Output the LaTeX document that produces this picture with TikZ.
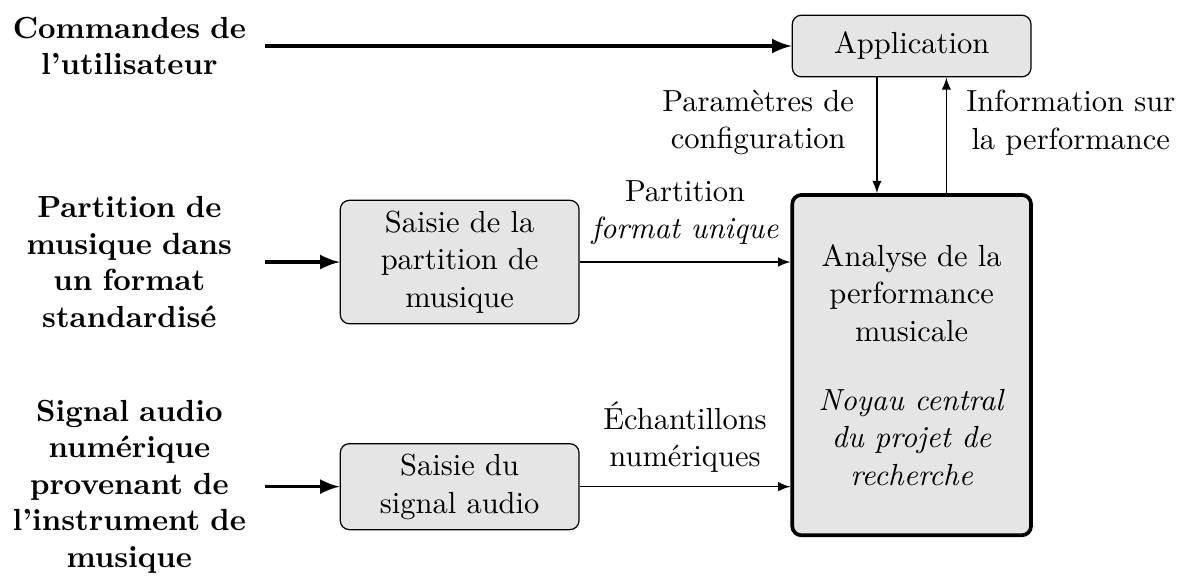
\documentclass[tikz,border=0pt]{standalone}
\usetikzlibrary{positioning}

\begin{document}
\begin{tikzpicture}[
    txt/.style={align=center, execute at begin node={\setlength{\baselineskip}{12.4pt}}},
    box/.style={txt, draw, rounded corners=3pt, fill=gray!20, minimum width=2.75cm},
    inlabel/.style={font=\bfseries, text width=2.9cm, align=center, inner xsep=3pt},
    flow/.style={-latex},
    input/.style={-latex, very thick}]
    \useasboundingbox (0,0) rectangle (13.66,-6.636);
    % blocs
    \node[box, minimum height=0.71cm] (app) at (10.5,-0.53) {Application};
    \node[box, very thick, minimum height=3.92cm] (analyse) at (10.5,-4.205)
        {Analyse de la\\performance\\musicale\\[10pt]\textit{Noyau central}\\\textit{du projet de}\\\textit{recherche}};
    \node[box] (partbox) at (5.294,-3.018) {Saisie de la\\partition de\\musique};
    \node[box] (sigbox) at (5.294,-5.605) {Saisie du\\signal audio};
    % entrees
    \node[inlabel, left=0.86cm of partbox] (partin) {Partition de\\musique dans\\un format\\standardisé};
    \node[inlabel, left=0.86cm of sigbox] (sigin) {Signal audio\\numérique\\provenant de\\l'instrument de\\musique};
    \node[inlabel] (cmdin) at (partin |- app) {Commandes de\\l'utilisateur};
    \draw[input] (cmdin) -- (app);
    \draw[input] (partin) -- (partbox);
    \draw[input] (sigin) -- (sigbox);
    % liaisons
    \draw[flow] (partbox) -- (partbox -| analyse.west)
        node[txt, midway, above=2pt] {Partition\\\textit{format unique}};
    \draw[flow] (sigbox) -- (sigbox -| analyse.west)
        node[txt, midway, above=1pt] {Échantillons\\numériques};
    \draw[flow] ([xshift=-4mm]app.south) -- ([xshift=-4mm]analyse.north)
        node[txt, pos=0.39, left=4pt] {Paramètres de\\configuration};
    \draw[flow] ([xshift=4mm]analyse.north) -- ([xshift=4mm]app.south)
        node[txt, pos=0.61, right=3pt] {Information sur\\la performance};
\end{tikzpicture}
\end{document}
